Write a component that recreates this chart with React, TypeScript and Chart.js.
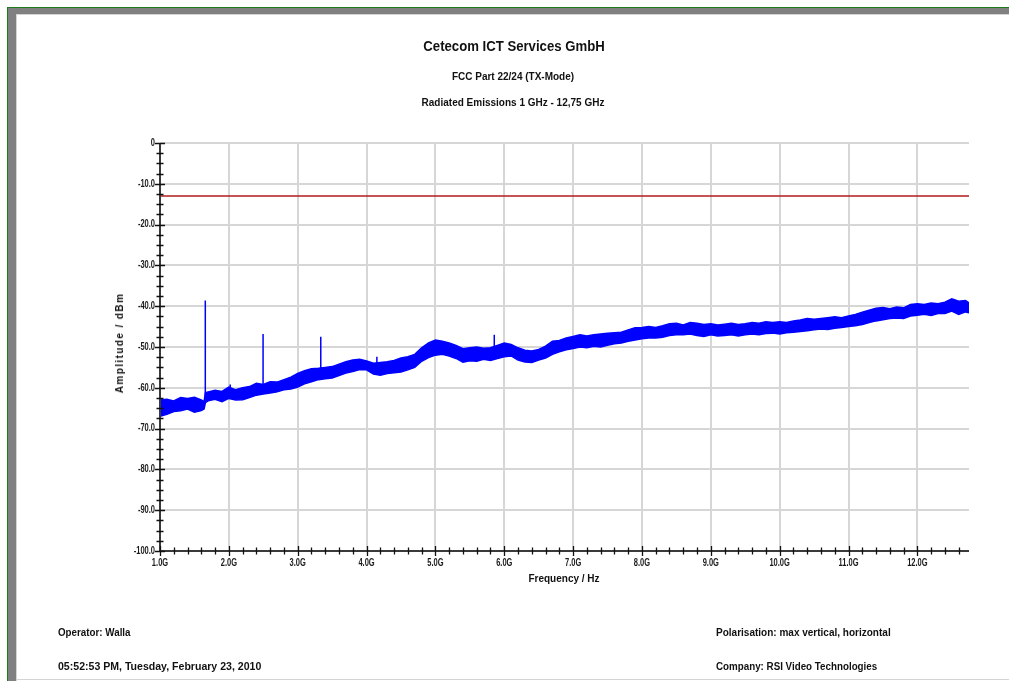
import React, { useEffect, useRef } from "react";
import { Chart, registerables } from "chart.js";

Chart.register(...registerables);

// ---------- data ----------
const freqGHz = [
  1.0, 1.1, 1.2, 1.3, 1.4, 1.5, 1.6, 1.64, 1.66, 1.7, 1.8, 1.9,
  2.0, 2.1, 2.2, 2.3, 2.4, 2.5, 2.6, 2.7, 2.8, 2.9,
  3.0, 3.1, 3.2, 3.3, 3.4, 3.5, 3.6, 3.7, 3.8, 3.9,
  4.0, 4.1, 4.2, 4.3, 4.4, 4.5, 4.6, 4.7, 4.8, 4.9,
  5.0, 5.1, 5.2, 5.3, 5.4, 5.5, 5.6, 5.7, 5.8, 5.9,
  6.0, 6.1, 6.2, 6.3, 6.4, 6.5, 6.6, 6.7, 6.8, 6.9,
  7.0, 7.1, 7.2, 7.3, 7.4, 7.5, 7.6, 7.7, 7.8, 7.9,
  8.0, 8.1, 8.2, 8.3, 8.4, 8.5, 8.6, 8.7, 8.8, 8.9,
  9.0, 9.1, 9.2, 9.3, 9.4, 9.5, 9.6, 9.7, 9.8, 9.9,
  10.0, 10.1, 10.2, 10.3, 10.4, 10.5, 10.6, 10.7, 10.8, 10.9,
  11.0, 11.1, 11.2, 11.3, 11.4, 11.5, 11.6, 11.7, 11.8, 11.9,
  12.0, 12.1, 12.2, 12.3, 12.4, 12.5, 12.6, 12.7, 12.75,
];

const upperDbm = [
  -63.0, -62.8, -63.2, -62.4, -62.6, -62.3, -63.0, -63.4, -61.2, -61.0, -60.6, -60.9,
  -59.8, -60.5, -60.0, -59.7, -58.9, -59.2, -58.5, -58.6, -58.0, -57.4,
  -56.5, -55.8, -55.3, -55.2, -55.0, -54.8, -54.2, -53.6, -53.2, -53.0,
  -53.4, -54.0, -53.8, -53.6, -53.3, -52.7, -52.4, -51.8, -50.2, -49.0,
  -48.3, -48.6, -49.0, -49.6, -50.4, -50.2, -50.0, -50.3, -50.2, -49.6,
  -49.0, -49.4, -50.2, -50.8, -51.0, -50.6, -49.8, -48.6, -48.4, -47.8,
  -47.4, -47.0, -47.3, -47.0, -46.8, -46.6, -46.5, -46.4, -45.8, -45.3,
  -45.2, -45.0, -45.2, -44.8, -44.3, -44.2, -44.6, -44.0, -44.2, -44.5,
  -44.3, -44.6, -44.4, -44.2, -44.5, -44.3, -44.0, -44.2, -43.8, -44.0,
  -43.8, -44.0, -43.6, -43.4, -43.0, -43.2, -43.0, -42.8, -42.6, -42.8,
  -42.4, -42.0, -41.5, -41.0, -40.5, -40.3, -40.6, -40.2, -40.4, -39.6,
  -39.4, -39.6, -39.2, -39.4, -39.0, -38.2, -38.8, -38.6, -39.2,
];

const lowerDbm = [
  -67.0, -66.5, -65.8, -65.6, -65.2, -66.0, -65.6, -65.2, -63.6, -63.2, -62.8, -63.4,
  -62.6, -63.0, -62.9, -62.4, -61.8, -61.5, -61.3, -61.0, -60.5, -60.3,
  -59.8, -59.0, -58.5, -58.0, -57.8, -57.6, -57.0, -56.4, -56.0, -55.5,
  -55.6, -56.6, -56.9, -56.5, -56.3, -56.1, -55.6, -55.0, -53.5, -52.6,
  -52.0, -51.8, -52.2, -52.8, -53.7, -53.4, -53.5, -53.0, -53.3, -52.8,
  -52.4, -52.2, -53.2, -53.7, -53.8, -53.2, -52.7, -51.8, -51.2, -50.7,
  -50.4, -50.0, -50.2, -49.8, -50.0, -49.6, -49.2, -49.0, -48.6, -48.3,
  -48.0, -47.8, -47.8, -47.6, -47.2, -47.0, -47.0, -46.8, -47.2, -47.4,
  -47.0, -47.3, -47.2, -47.0, -47.3, -47.0, -46.8, -47.0, -46.7, -46.6,
  -46.8, -46.5, -46.4, -46.2, -46.0, -45.8, -45.6, -45.7, -45.4, -45.2,
  -45.0, -44.8, -44.5, -44.0, -43.6, -43.3, -43.0, -42.9, -43.0, -42.4,
  -42.2, -42.0, -42.3, -41.8, -41.8, -41.2, -42.0, -41.4, -41.6,
];

// spurious peaks: frequency, base level, peak level
const spikeFreqGHz = [1.658, 2.02, 2.497, 3.335, 4.15, 5.855];
const spikeBaseDbm = [-63.0, -61.0, -61.0, -57.0, -55.0, -51.5];
const spikePeakDbm = [-38.6, -59.2, -46.8, -47.5, -52.4, -47.0];

const limitDbm = -13;
const freqRange = [1.0, 12.75];
const ampRange = [-100, 0];
const xMajorTicks = [1, 2, 3, 4, 5, 6, 7, 8, 9, 10, 11, 12];
const yMajorTicks = [0, -10, -20, -30, -40, -50, -60, -70, -80, -90, -100];

const titleLines = [
  "Cetecom ICT Services GmbH",
  "FCC Part 22/24 (TX-Mode)",
  "Radiated Emissions 1 GHz - 12,75 GHz",
];
const xAxisTitle = "Frequency / Hz";
const yAxisTitle = "Amplitude / dBm";
const footerLeft = ["Operator: Walla", "05:52:53 PM, Tuesday, February 23, 2010"];
const footerRight = ["Polarisation: max vertical, horizontal", "Company: RSI Video Technologies"];

const SANS = "'Liberation Sans', Arial, sans-serif";
const TICK_SQUEEZE = 0.75;

const axisPlugin = {
  id: "axisDecor",
  afterDraw(chart: any) {
    const { ctx, chartArea, scales } = chart;
    const xs = scales.x;
    const ys = scales.y;
    ctx.save();
    ctx.strokeStyle = "#3a3a3a";
    ctx.lineWidth = 2;
    ctx.beginPath();
    ctx.moveTo(chartArea.left, chartArea.top);
    ctx.lineTo(chartArea.left, chartArea.bottom);
    ctx.lineTo(chartArea.right, chartArea.bottom);
    ctx.stroke();
    ctx.strokeStyle = "#111";
    ctx.lineWidth = 1.3;
    ctx.beginPath();
    // y ticks every 2.5 dB, major every 10
    for (let k = 0; k <= 40; k++) {
      const v = ampRange[0] + k * 2.5;
      const y = Math.round(ys.getPixelForValue(v)) + 0.5;
      const len = k % 4 === 0 ? 5 : 3.5;
      ctx.moveTo(chartArea.left - len, y);
      ctx.lineTo(chartArea.left + len, y);
    }
    // x ticks every 0.2 GHz, major every 1
    for (let k = 0; k <= 58; k++) {
      const v = freqRange[0] + k * 0.2;
      if (v > freqRange[1] + 1e-6) break;
      const x = Math.round(xs.getPixelForValue(v)) + 0.5;
      const len = k % 5 === 0 ? 5 : 3.5;
      ctx.moveTo(x, chartArea.bottom - len);
      ctx.lineTo(x, chartArea.bottom + len);
    }
    ctx.stroke();

    // condensed tick labels
    ctx.fillStyle = "#1a1a1a";
    ctx.font = "bold 10px " + SANS;
    ctx.textBaseline = "middle";
    ctx.textAlign = "right";
    yMajorTicks.forEach((v) => {
      const y = ys.getPixelForValue(v);
      const label = v === 0 ? "0" : v.toFixed(1);
      ctx.save();
      ctx.translate(chartArea.left - 5, y);
      ctx.scale(TICK_SQUEEZE, 1);
      ctx.fillText(label, 0, 0);
      ctx.restore();
    });
    ctx.textAlign = "center";
    xMajorTicks.forEach((v) => {
      const x = xs.getPixelForValue(v);
      const label = v.toFixed(1) + "G";
      ctx.save();
      ctx.translate(x, chartArea.bottom + 12);
      ctx.scale(TICK_SQUEEZE, 1);
      ctx.fillText(label, 0, 0);
      ctx.restore();
    });
    ctx.restore();
  },
};

function ChartCanvas() {
  const ref = useRef<HTMLCanvasElement | null>(null);
  useEffect(() => {
    if (!ref.current) return;
    const upper = freqGHz.map((f, i) => ({ x: f, y: upperDbm[i] }));
    const lower = freqGHz.map((f, i) => ({ x: f, y: lowerDbm[i] }));
    const spikes: any[] = [];
    spikeFreqGHz.forEach((f, i) => {
      spikes.push({ x: f, y: spikeBaseDbm[i] });
      spikes.push({ x: f, y: spikePeakDbm[i] });
      spikes.push({ x: f, y: null });
    });
    const chart = new Chart(ref.current, {
      type: "line",
      data: {
        datasets: [
          {
            label: "Limit",
            data: [
              { x: freqRange[0], y: limitDbm },
              { x: freqRange[1], y: limitDbm },
            ],
            borderColor: "#b01c1c",
            borderWidth: 1.5,
            pointRadius: 0,
            fill: false,
          },
          {
            label: "Max",
            data: upper,
            borderColor: "#0000ff",
            borderWidth: 1.5,
            pointRadius: 0,
            fill: false,
          },
          {
            label: "Min",
            data: lower,
            borderColor: "#0000ff",
            borderWidth: 1.5,
            pointRadius: 0,
            backgroundColor: "#0000ff",
            fill: 1,
          },
          {
            label: "Peaks",
            data: spikes,
            borderColor: "#0000ff",
            borderWidth: 1.5,
            pointRadius: 0,
            spanGaps: false,
            fill: false,
          },
        ],
      },
      options: {
        animation: false,
        responsive: false,
        layout: { padding: { left: 100, right: 40, top: 143, bottom: 100 } },
        plugins: {
          legend: { display: false },
          tooltip: { enabled: false },
          title: { display: false },
        },
        elements: { line: { tension: 0 } },
        scales: {
          x: {
            type: "linear",
            min: freqRange[0],
            max: freqRange[1],
            afterBuildTicks: (s: any) => {
              s.ticks = xMajorTicks.map((v) => ({ value: v }));
            },
            afterFit: (s: any) => {
              s.height = 30;
            },
            ticks: { display: false, autoSkip: false },
            grid: { color: "#d6d6d6", lineWidth: 2, drawTicks: false },
            border: { display: false },
          },
          y: {
            type: "linear",
            min: ampRange[0],
            max: ampRange[1],
            afterBuildTicks: (s: any) => {
              s.ticks = yMajorTicks.map((v) => ({ value: v }));
            },
            afterFit: (s: any) => {
              s.width = 60;
            },
            ticks: { display: false, autoSkip: false },
            grid: { color: "#d6d6d6", lineWidth: 2, drawTicks: false },
            border: { display: false },
          },
        },
      },
      plugins: [axisPlugin],
    });
    return () => chart.destroy();
  }, []);
  return (
    <canvas
      ref={ref}
      width={1009}
      height={681}
      style={{ position: "absolute", left: 0, top: 0, width: 1009, height: 681 }}
    />
  );
}

const txt = (extra: React.CSSProperties): React.CSSProperties => ({
  position: "absolute",
  whiteSpace: "nowrap",
  fontWeight: "bold",
  fontFamily: SANS,
  color: "#111",
  lineHeight: 1,
  ...extra,
});

const foot = (left: number, top: number, sx: number): React.CSSProperties =>
  txt({ left, top, fontSize: 11, transform: `scaleX(${sx})`, transformOrigin: "0 0" });

export default function App() {
  return (
    <div
      style={{
        position: "fixed",
        left: 0,
        top: 0,
        width: 1009,
        height: 681,
        background: "#fff",
        overflow: "hidden",
      }}
    >
      {/* window frame */}
      <div style={{ position: "absolute", left: 7, top: 7, width: 1002, height: 1, background: "#1d7a1d" }} />
      <div style={{ position: "absolute", left: 7, top: 7, width: 1, height: 674, background: "#1d7a1d" }} />
      <div style={{ position: "absolute", left: 8, top: 8, width: 1001, height: 6, background: "#808080" }} />
      <div style={{ position: "absolute", left: 8, top: 8, width: 8, height: 673, background: "#808080" }} />
      <div style={{ position: "absolute", left: 16, top: 14, width: 993, height: 1, background: "#d4d4d4" }} />
      <div style={{ position: "absolute", left: 16, top: 14, width: 1, height: 667, background: "#d4d4d4" }} />
      <div style={{ position: "absolute", left: 16, top: 679, width: 993, height: 1, background: "#d4d4d4" }} />

      <ChartCanvas />

      <div
        style={txt({
          left: 514,
          top: 39,
          transform: "translateX(-50%) scaleX(0.94)",
          fontSize: 14,
        })}
      >
        {titleLines[0]}
      </div>
      <div style={txt({ left: 513, top: 72, transform: "translateX(-50%)", fontSize: 10 })}>
        {titleLines[1]}
      </div>
      <div style={txt({ left: 513, top: 98, transform: "translateX(-50%)", fontSize: 10 })}>
        {titleLines[2]}
      </div>

      <div style={txt({ left: 564, top: 574, transform: "translateX(-50%)", fontSize: 10 })}>
        {xAxisTitle}
      </div>
      <div
        style={txt({
          left: 120,
          top: 343,
          transform: "translate(-50%, -50%) rotate(-90deg)",
          fontSize: 10,
          letterSpacing: 1.4,
        })}
      >
        {yAxisTitle}
      </div>

      <div style={foot(58, 627, 0.89)}>{footerLeft[0]}</div>
      <div style={foot(58, 661, 0.96)}>{footerLeft[1]}</div>
      <div style={foot(716, 627, 0.91)}>{footerRight[0]}</div>
      <div style={foot(716, 661, 0.89)}>{footerRight[1]}</div>
    </div>
  );
}
